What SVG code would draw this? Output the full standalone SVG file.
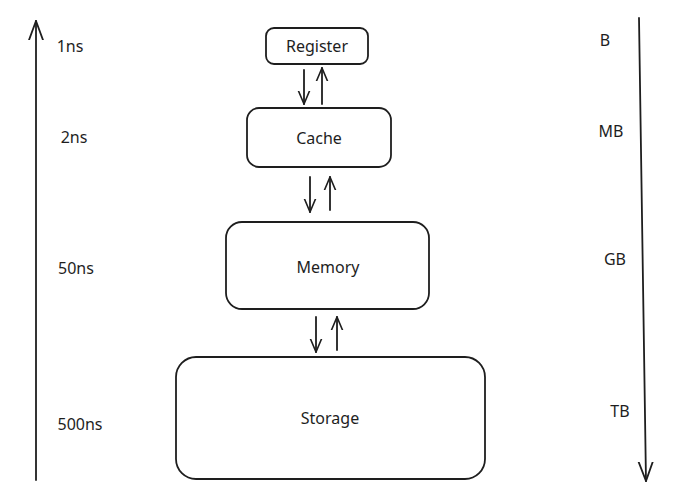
<svg xmlns="http://www.w3.org/2000/svg" width="680" height="493" viewBox="0 0 680 493">
<style>
.box{fill:#fff;stroke:#1e1e1e;stroke-width:1.8}
.ln{stroke:#1e1e1e;stroke-width:1.8;fill:none;stroke-linecap:round}
.t{font-family:"Noto Sans","Liberation Sans",sans-serif;font-size:16px;fill:#1e1e1e}
.c{text-anchor:middle;dominant-baseline:central}
</style>
<defs>
<marker id="ah" viewBox="0 0 14 14" refX="13" refY="7" markerWidth="14" markerHeight="14" markerUnits="userSpaceOnUse" orient="auto">
<path d="M0,1.5 L13,7 L0,12.5" fill="none" stroke="#1e1e1e" stroke-width="1.6" stroke-linecap="round"/>
</marker>
<marker id="ahl" viewBox="0 0 20 20" refX="19" refY="10" markerWidth="20" markerHeight="20" markerUnits="userSpaceOnUse" orient="auto">
<path d="M0,3 L19,10 L0,17" fill="none" stroke="#1e1e1e" stroke-width="1.8" stroke-linecap="round"/>
</marker>
</defs>
<rect width="680" height="493" fill="#fff"/>
<g id="connectors">
<line class="ln" x1="36" y1="480" x2="36" y2="21" marker-end="url(#ahl)"/>
<line class="ln" x1="639" y1="18" x2="646" y2="481" marker-end="url(#ahl)"/>
<line class="ln" x1="304" y1="70" x2="304" y2="104" marker-end="url(#ah)"/>
<line class="ln" x1="322" y1="104" x2="322" y2="68" marker-end="url(#ah)"/>
<line class="ln" x1="310" y1="177" x2="310" y2="212" marker-end="url(#ah)"/>
<line class="ln" x1="330" y1="210" x2="330" y2="177" marker-end="url(#ah)"/>
<line class="ln" x1="316" y1="317" x2="316" y2="352" marker-end="url(#ah)"/>
<line class="ln" x1="337" y1="350" x2="337" y2="317" marker-end="url(#ah)"/>
</g>
<g id="register"><rect class="box" x="266" y="28" width="102" height="36" rx="8"/><text class="t c" x="317" y="46">Register</text></g>
<g id="cache"><rect class="box" x="247" y="108" width="144" height="59" rx="12"/><text class="t c" x="319" y="138">Cache</text></g>
<g id="memory"><rect class="box" x="226" y="222" width="203" height="87" rx="16"/><text class="t c" x="328" y="267">Memory</text></g>
<g id="storage"><rect class="box" x="176" y="357" width="309" height="122" rx="20"/><text class="t c" x="330" y="418">Storage</text></g>
<g id="labels">
<text class="t c" x="70" y="46">1ns</text>
<text class="t c" x="74" y="137">2ns</text>
<text class="t c" x="76" y="268">50ns</text>
<text class="t c" x="80" y="424">500ns</text>
<text class="t c" x="605" y="40">B</text>
<text class="t c" x="611" y="131">MB</text>
<text class="t c" x="615" y="259">GB</text>
<text class="t c" x="620" y="411">TB</text>
</g>
</svg>
